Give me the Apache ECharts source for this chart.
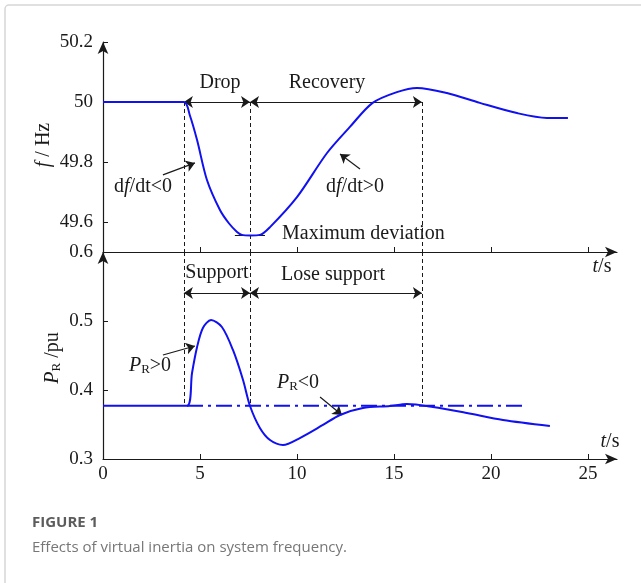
<!DOCTYPE html>
<html><head><meta charset="utf-8">
<script src="https://cdn.jsdelivr.net/npm/echarts@6/dist/echarts.min.js"></script>
<style>html,body{margin:0;padding:0;background:#fff}#c{width:641px;height:583px}</style>
</head><body><div id="c"></div>
<script>
// ---- data ----
const freqTime = [0, 2, 4.17, 4.48, 4.85, 5.36, 6.03, 6.5, 6.91, 7.16, 7.6, 8.09, 8.61, 10, 11.55, 12.73, 13.9, 15.15, 16.19, 17.73, 19.43, 21.34, 22.89, 23.97];
const freqVals = [50, 50, 50, 49.955, 49.873, 49.74, 49.64, 49.595, 49.567, 49.557, 49.555, 49.557, 49.583, 49.683, 49.83, 49.917, 49.997, 50.033, 50.047, 50.03, 49.997, 49.963, 49.947, 49.947];
const powTime = [0, 2, 4.33, 4.59, 4.85, 5.15, 5.57, 6.13, 6.70, 7.22, 7.58, 8.09, 8.61, 9.28, 10.15, 11.34, 12.22, 13.4, 14.79, 15.67, 17.01, 18.76, 20.62, 23.04];
const powVals = [0.377, 0.377, 0.377, 0.4246, 0.4623, 0.4899, 0.5014, 0.4913, 0.458, 0.4145, 0.3768, 0.345, 0.3275, 0.3203, 0.3304, 0.3493, 0.3638, 0.3739, 0.3768, 0.3797, 0.3754, 0.3667, 0.3565, 0.3478];
const refPower = 0.377;          // dash-dot reference level
const refPowerSpan = [4.33, 21.75];
const phaseTimes = [4.17, 7.58, 16.44]; // dashed verticals
const maxDevSpan = [6.8, 8.35];
const maxDevFreq = 49.557;
const xTicks = [0, 5, 10, 15, 20, 25];
const fTicks = [49.6, 49.8, 50, 50.2];
const pTicks = [0.3, 0.4, 0.5, 0.6];
// annotation arrows (data coords)
const arrowDfNeg = [[3.09, 49.757], [4.74, 49.797]];
const arrowDfPos = [[13.25, 49.777], [12.22, 49.827]];
const arrowPPos = [[3.09, 0.4507], [4.74, 0.4638]];
const arrowPNeg = [[11.19, 0.3899], [12.32, 0.3638]];
const spanArrowFreq = 50;
const spanArrowPow = 0.5406;

const serif = 'Liberation Serif';
const blue = '#1010f0';
const ink = '#1a1a1a';
const chart = echarts.init(document.getElementById('c'), null, {renderer: 'canvas'});
const zip = (a, b) => a.map((v, i) => [v, b[i]]);
const onlyTicks = list => v => list.some(t => Math.abs(t - v) < 1e-6) ? String(+(+v).toFixed(2)) : '';

const labelStyle = {color: ink, fontFamily: serif, fontSize: 19, margin: 10};
const xCommon = {
  type: 'value', min: 0, max: 26.5, interval: 5,
  axisLine: {show: true, onZero: false, lineStyle: {color: ink, width: 1.2}, symbol: ['none', 'arrow'], symbolSize: [8, 12]},
  axisTick: {show: true, inside: true, length: 5, lineStyle: {color: ink}, customValues: xTicks.slice(1)},
  splitLine: {show: false}
};
const yCommon = {
  type: 'value', interval: 0.1,
  axisLine: {show: true, onZero: false, lineStyle: {color: ink, width: 1.2}, symbol: ['none', 'arrow'], symbolSize: [8, 12]},
  splitLine: {show: false}
};

const lineSeg = (coords, xi, sym, extra) => Object.assign({
  type: 'lines', coordinateSystem: 'cartesian2d', xAxisIndex: xi, yAxisIndex: xi,
  symbol: sym, symbolSize: 9, silent: true,
  lineStyle: {color: ink, width: 1.2, opacity: 1, curveness: 0},
  data: coords.map(c => ({coords: c}))
}, extra || {});

const vertTop = phaseTimes.map(t => [[t, 50], [t, 49.5]]);
const vertBot = phaseTimes.map(t => [[t, 0.6], [t, refPower]]);

const rich = {
  i: {fontFamily: serif, fontStyle: 'italic', fontSize: 20, fill: ink, color: ink},
  n: {fontFamily: serif, fontSize: 20, color: ink},
  sub: {fontFamily: serif, fontSize: 13, color: ink, verticalAlign: 'bottom', padding: [8, 0, 0, 0]}
};
const txt = (x, y, text, opts) => Object.assign({
  type: 'text', x: x, y: y,
  style: Object.assign({text: text, fill: ink, font: '20px "Liberation Serif"', align: 'center', verticalAlign: 'middle', rich: rich}, (opts && opts.style) || {})
}, opts && opts.rotation !== undefined ? {rotation: opts.rotation} : {});

chart.setOption({
  animation: false,
  textStyle: {fontFamily: serif, color: ink},
  grid: [
    {left: 103, top: 42, width: 514, height: 210},
    {left: 103, top: 252, width: 514, height: 207}
  ],
  xAxis: [
    Object.assign({}, xCommon, {gridIndex: 0, axisLabel: {show: false}}),
    Object.assign({}, xCommon, {gridIndex: 1, axisLabel: Object.assign({show: true, formatter: onlyTicks(xTicks)}, labelStyle, {margin: 6})})
  ],
  yAxis: [
    Object.assign({}, yCommon, {gridIndex: 0, min: 49.5, max: 50.2,
      axisTick: {show: true, inside: true, length: 5, lineStyle: {color: ink}, customValues: fTicks},
      axisLabel: Object.assign({formatter: onlyTicks(fTicks)}, labelStyle)}),
    Object.assign({}, yCommon, {gridIndex: 1, min: 0.3, max: 0.6,
      axisTick: {show: true, inside: true, length: 5, lineStyle: {color: ink}, customValues: pTicks},
      axisLabel: Object.assign({formatter: onlyTicks(pTicks)}, labelStyle)})
  ],
  series: [
    {type: 'line', xAxisIndex: 0, yAxisIndex: 0, data: zip(freqTime, freqVals), showSymbol: false, smooth: 0.3,
      lineStyle: {color: blue, width: 2}, z: 5},
    {type: 'line', xAxisIndex: 1, yAxisIndex: 1, data: zip(powTime, powVals), showSymbol: false, smooth: 0.3,
      lineStyle: {color: blue, width: 2}, z: 5},
    {type: 'line', xAxisIndex: 1, yAxisIndex: 1, data: refPowerSpan.map(t => [t, refPower]), showSymbol: false,
      lineStyle: {color: blue, width: 2, type: [16, 5, 3, 5]}, z: 4},
    lineSeg(vertTop, 0, ['none', 'none'], {lineStyle: {color: ink, width: 1, type: [4, 3], opacity: 1}}),
    lineSeg(vertBot, 1, ['none', 'none'], {lineStyle: {color: ink, width: 1, type: [4, 3], opacity: 1}}),
    lineSeg([[[phaseTimes[0], spanArrowFreq], [phaseTimes[1], spanArrowFreq]], [[phaseTimes[1], spanArrowFreq], [phaseTimes[2], spanArrowFreq]]], 0, ['arrow', 'arrow']),
    lineSeg([[[phaseTimes[0], spanArrowPow], [phaseTimes[1], spanArrowPow]], [[phaseTimes[1], spanArrowPow], [phaseTimes[2], spanArrowPow]]], 1, ['arrow', 'arrow']),
    lineSeg([arrowDfNeg, arrowDfPos], 0, ['none', 'arrow']),
    lineSeg([arrowPPos, arrowPNeg], 1, ['none', 'arrow']),
    lineSeg([[[maxDevSpan[0], maxDevFreq], [maxDevSpan[1], maxDevFreq]]], 0, ['none', 'none'])
  ],
  graphic: [
    {type: 'rect', shape: {x: 5, y: 5, width: 800, height: 800, r: 4}, style: {fill: 'none', stroke: '#d6d6d6', lineWidth: 1.5}, silent: true, z: -1},
    txt(220, 83, 'Drop'),
    txt(327, 83, 'Recovery'),
    txt(143, 187, '{n|d}{i|f}{n|/dt<0}'),
    txt(355, 187, '{n|d}{i|f}{n|/dt>0}'),
    txt(282, 234, 'Maximum deviation', {style: {align: 'left'}}),
    txt(217, 273, 'Support'),
    txt(333, 275, 'Lose support'),
    txt(150, 366, '{i|P}{sub|R}{n|>0}'),
    txt(298, 383, '{i|P}{sub|R}{n|<0}'),
    txt(602, 267, '{i|t}{n|/s}'),
    txt(610, 442, '{i|t}{n|/s}'),
    txt(44, 145, '{i|f}{n| / Hz}', {rotation: Math.PI / 2}),
    txt(53, 358, '{i|P}{sub|R}{n| /pu}', {rotation: Math.PI / 2}),
    {type: 'text', x: 32, y: 515, style: {text: 'FIGURE 1', fill: '#5c5c5c', font: 'bold 15px "Open Sans", sans-serif'}},
    {type: 'text', x: 32, y: 540, style: {text: 'Effects of virtual inertia on system frequency.', fill: '#777', font: '15px "Open Sans", sans-serif'}}
  ]
});
</script></body></html>
